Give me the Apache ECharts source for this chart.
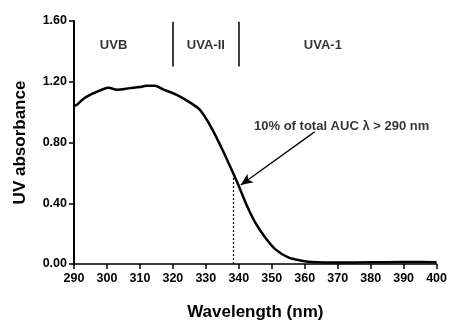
<!DOCTYPE html>
<html>
<head>
<meta charset="utf-8">
<script src="https://cdn.jsdelivr.net/npm/echarts@6/dist/echarts.min.js"></script>
<style>
  html, body { margin: 0; padding: 0; background: #fff; }
  #chart { width: 450px; height: 326px; }
</style>
</head>
<body>
<div id="chart"></div>
<script>
// absorbance curve
const wavelength = [290, 291, 293, 296, 299, 300.5, 303, 307, 310, 312, 314.5, 317, 321, 325, 328, 330, 332, 335, 338, 340, 342.5, 345, 348, 351, 355, 359, 362, 366, 375, 385, 392, 400];
const absorbance = [1.04, 1.05, 1.09, 1.125, 1.152, 1.16, 1.148, 1.158, 1.165, 1.174, 1.174, 1.15, 1.115, 1.066, 1.02, 0.96, 0.885, 0.754, 0.612, 0.513, 0.382, 0.273, 0.175, 0.098, 0.044, 0.022, 0.013, 0.010, 0.010, 0.012, 0.013, 0.012];

// band dividers and labels
const bandEdges = [320, 340];
const bandTop = 1.595;
const bandBottom = 1.30;
const bandNames = ['UVB', 'UVA-II', 'UVA-1'];
const bandNameX = [302, 330, 365.5];
const bandNameY = 1.44;

// 10% AUC marker
const aucX = 338.3;
const aucY = 0.58;
const aucText = '10% of total AUC \u03bb > 290 nm';
const aucTextPos = [371.2, 0.905];
const arrowFrom = [363, 0.87];
const arrowTo = [340.6, 0.52];

const FONT = "'Liberation Sans', Arial, sans-serif";

const chart = echarts.init(document.getElementById('chart'));

const option = {
    animation: false,
    grid: { left: 74, right: 11, top: 21, bottom: 61 },
    xAxis: {
        type: 'value',
        min: 290,
        max: 400,
        interval: 10,
        name: 'Wavelength (nm)',
        nameLocation: 'middle',
        nameGap: 40,
        nameTextStyle: { fontFamily: FONT, fontSize: 17, fontWeight: 'bold', color: '#000' },
        axisLine: { lineStyle: { color: '#000', width: 1.5 } },
        axisTick: { length: 5, lineStyle: { color: '#000', width: 1.5 } },
        axisLabel: { margin: 8, fontFamily: FONT, fontSize: 12.5, fontWeight: 'bold', color: '#000' },
        splitLine: { show: false }
    },
    yAxis: {
        type: 'value',
        min: 0,
        max: 1.6,
        interval: 0.4,
        name: 'UV absorbance',
        nameLocation: 'middle',
        nameGap: 45,
        nameTextStyle: { fontFamily: FONT, fontSize: 17, fontWeight: 'bold', color: '#000' },
        axisLine: { show: true, lineStyle: { color: '#000', width: 2 } },
        axisTick: { show: true, length: 5, lineStyle: { color: '#000', width: 1.5 } },
        axisLabel: {
            margin: 7,
            fontFamily: FONT, fontSize: 12.5, fontWeight: 'bold', color: '#000',
            formatter: (v) => v.toFixed(2)
        },
        splitLine: { show: false }
    },
    series: [
        {
            // absorbance spectrum
            type: 'line',
            data: wavelength.map((w, i) => [w, absorbance[i]]),
            smooth: 0.3,
            showSymbol: false,
            lineStyle: { color: '#000', width: 2.5 },
            markLine: {
                silent: true,
                symbol: 'none',
                label: { show: false },
                lineStyle: { color: '#000', width: 1.5, type: 'solid' },
                data: [
                    [{ coord: [bandEdges[0], bandTop] }, { coord: [bandEdges[0], bandBottom] }],
                    [{ coord: [bandEdges[1], bandTop] }, { coord: [bandEdges[1], bandBottom] }],
                    [
                        { coord: [aucX, 0], lineStyle: { type: [2, 2], width: 1.2 } },
                        { coord: [aucX, aucY] }
                    ],
                    [
                        { coord: arrowFrom, symbol: 'none', lineStyle: { width: 1.3 } },
                        { coord: arrowTo, symbol: 'arrow', symbolSize: [8, 12] }
                    ]
                ]
            }
        },
        {
            // band names
            type: 'scatter',
            symbolSize: 0,
            silent: true,
            data: bandNames.map((n, i) => ({ value: [bandNameX[i], bandNameY], name: n })),
            label: {
                show: true,
                position: 'inside',
                formatter: (p) => p.name,
                fontFamily: FONT, fontSize: 13, fontWeight: 'bold', color: '#000'
            }
        },
        {
            // annotation text
            type: 'scatter',
            symbolSize: 0,
            silent: true,
            data: [{ value: aucTextPos, name: aucText }],
            label: {
                show: true,
                position: 'inside',
                formatter: (p) => p.name,
                fontFamily: FONT, fontSize: 13, fontWeight: 'bold', color: '#000'
            }
        }
    ]
};

chart.setOption(option);
</script>
</body>
</html>
